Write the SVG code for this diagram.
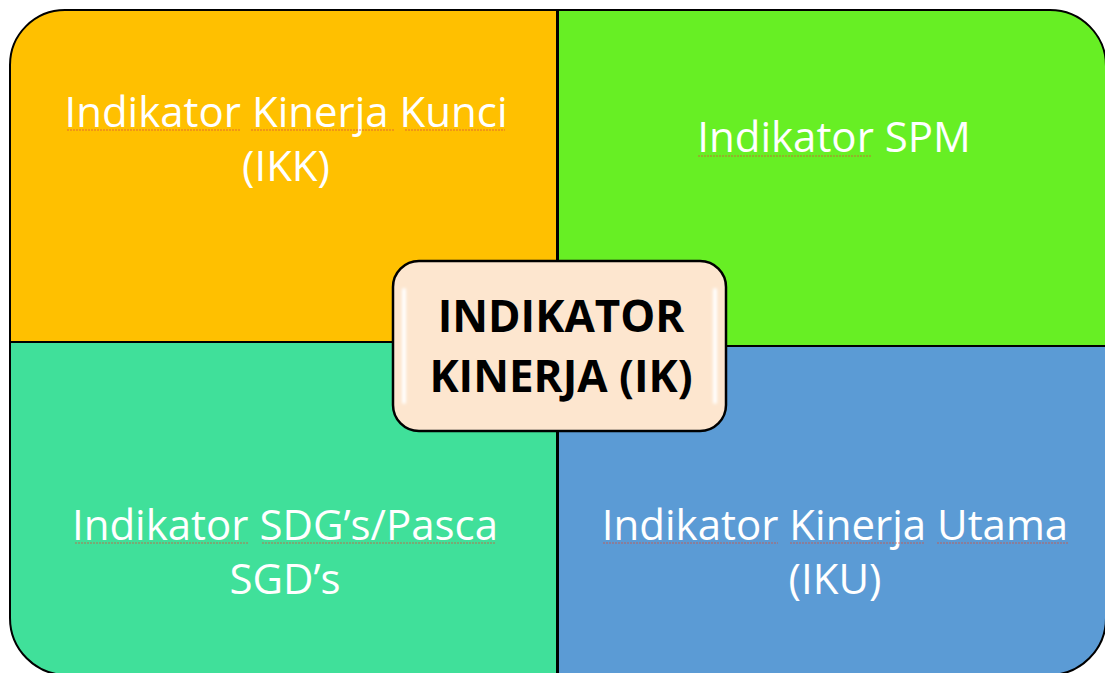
<svg xmlns="http://www.w3.org/2000/svg" width="1105" height="673" viewBox="0 0 1105 673">
<defs>
<filter id="blur" x="-20%" y="-20%" width="140%" height="140%"><feGaussianBlur stdDeviation="1.6"/></filter>
<style>
.q{stroke:#000;stroke-width:2}
.t{font-family:"Open Sans","Liberation Sans",sans-serif;font-size:42px;fill:#fff;text-anchor:middle}
.c{font-family:"Open Sans","Liberation Sans",sans-serif;font-size:44px;font-weight:bold;fill:#000;text-anchor:middle}
.hl{fill:none;stroke-width:4;stroke-linecap:round;filter:url(#blur)}
.sq{fill:none;stroke:#D9503A;stroke-width:1.2;stroke-dasharray:2 1;opacity:0.75}
</style>
</defs>
<rect width="1105" height="673" fill="#fff"/>
<g id="q-ikk">
<path class="q" d="M10,342 V65 A55,55 0 0 1 65,10 H557 V342 Z" fill="#FFC000"/>
<path class="hl" d="M62,22 H548" stroke="#FFF06A"/>
<path class="hl" d="M20,335 H548" stroke="#FFE24A"/>
<text class="t" x="286" y="127">Indikator Kinerja Kunci</text>
<text class="t" x="286" y="181">(IKK)</text>
<path class="sq" d="M67,130 H240 M251,130 H395 M405,130 H505"/>
</g>
<g id="q-spm">
<path class="q" d="M558,10 H1050 A56,56 0 0 1 1106,66 V346 H558 Z" fill="#67EF24"/>
<path class="hl" d="M1097,64 V338" stroke="#C8FFB4"/>
<path class="hl" d="M566,20 V338" stroke="#B4FF90"/>
<text class="t" x="834" y="152">Indikator SPM</text>
<path class="sq" d="M698,156 H872"/>
</g>
<g id="q-sdg">
<path class="q" d="M10,342 H557 V675 H67 A57,57 0 0 1 10,618 Z" fill="#40E09A"/>
<path class="hl" d="M20,350 V610" stroke="#B8FFF0"/>
<path class="hl" d="M549,350 V665" stroke="#A8FFF0"/>
<text class="t" x="285" y="540">Indikator SDG’s/Pasca</text>
<text class="t" x="285" y="594">SGD’s</text>
<path class="sq" d="M75,543 H248 M262,543 H495" stroke="#B08070"/>
</g>
<g id="q-iku">
<path class="q" d="M558,346 H1106 V618 A57,57 0 0 1 1049,675 H558 Z" fill="#5B9BD5"/>
<path class="hl" d="M566,667 H1060" stroke="#B8E6FF"/>
<path class="hl" d="M566,354 H1097" stroke="#9CD4FF"/>
<text class="t" x="835" y="540">Indikator Kinerja Utama</text>
<text class="t" x="835" y="594">(IKU)</text>
<path class="sq" d="M603,543 H778 M790,543 H925 M937,543 H1068"/>
</g>
<g id="center-ik">
<rect x="393" y="261" width="333" height="170" rx="26" fill="#FDE6CF" stroke="#000" stroke-width="2.5"/>
<path class="hl" d="M404,290 V402 M715,290 V402" stroke="#fff"/>
<text class="c" x="561" y="332">INDIKATOR</text>
<text class="c" x="561" y="392">KINERJA (IK)</text>
</g>
<g id="connectors"/>
</svg>
